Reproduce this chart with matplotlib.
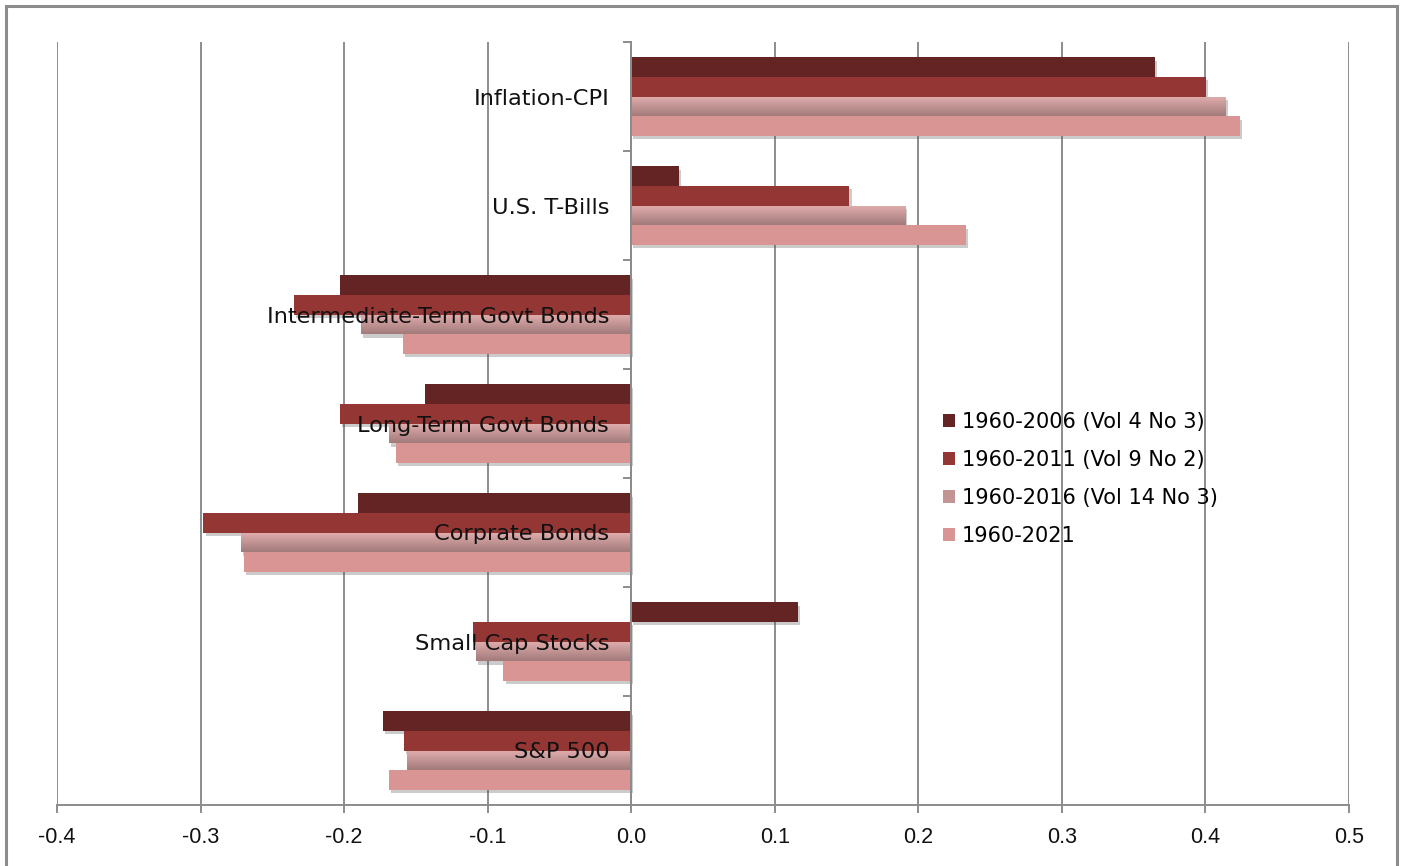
import numpy as np
import matplotlib
matplotlib.use("Agg")
import matplotlib.pyplot as plt
import matplotlib.patheffects as pe
import matplotlib.transforms as mtransforms
from matplotlib.patches import Rectangle

# categories, top to bottom
categories = ["Inflation-CPI", "U.S. T-Bills", "Intermediate-Term Govt Bonds",
              "Long-Term Govt Bonds", "Corprate Bonds", "Small Cap Stocks", "S&P 500"]
series_names = ["1960-2006 (Vol 4 No 3)", "1960-2011 (Vol 9 No 2)",
                "1960-2016 (Vol 14 No 3)", "1960-2021"]

v2006 = [0.365, 0.033, -0.203, -0.1435, -0.190, 0.116, -0.173]
v2011 = [0.4005, 0.152, -0.235, -0.203, -0.298, -0.110, -0.158]
v2016 = [0.414, 0.191, -0.188, -0.169, -0.272, -0.108, -0.156]
v2021 = [0.424, 0.233, -0.159, -0.164, -0.270, -0.089, -0.169]

xticks = [-0.4, -0.3, -0.2, -0.1, 0.0, 0.1, 0.2, 0.3, 0.4, 0.5]

colors = ["#632423", "#943634", "#C39494", "#D99594"]
grad_top = np.array([0xE2, 0xAE, 0xAE]) / 255
grad_bot = np.array([0xA2, 0x7A, 0x7A]) / 255

fig = plt.figure(figsize=(14.01, 8.66), dpi=100)
ax = fig.add_axes([57 / 1401, 61 / 866, 1292 / 1401, 763 / 866])

n = len(categories)
ypos = np.arange(n)[::-1].astype(float)
bh = 0.18
offsets = [1.5 * bh, 0.5 * bh, -0.5 * bh, -1.5 * bh]
shadow = [pe.SimplePatchShadow(offset=(1.5, -2.5), alpha=0.3, shadow_rgbFace="#555555"), pe.Normal()]

containers = []
for vals, off, col, name in zip([v2006, v2011, v2016, v2021], offsets, colors, series_names):
    bc = ax.barh(ypos + off, vals, height=bh, color=col, label=name, zorder=3)
    for b in bc:
        b.set_path_effects(shadow)
    containers.append(bc)

# vertical gradient on the third series
grad = np.linspace(0, 1, 64)[:, None, None]
grad_img = grad_top * (1 - grad) + grad_bot * grad
for b in containers[2]:
    x0, y0 = b.get_x(), b.get_y()
    w, h = b.get_width(), b.get_height()
    im = ax.imshow(grad_img, extent=[min(x0, x0 + w), max(x0, x0 + w), y0, y0 + h],
                   aspect="auto", origin="upper", zorder=3.5, interpolation="bilinear")
    im.set_clip_path(b)

ax.set_xlim(-0.4, 0.5)
ax.set_ylim(-0.5, n - 0.5)
ax.set_xticks(xticks)
ax.set_xticklabels([f"{t:.1f}" for t in xticks], fontsize=15.5,
                   family=["Liberation Sans", "DejaVu Sans"], color="#111111")
ax.grid(axis="x", color="#8c8c8c", linewidth=1.4, zorder=0)
ax.set_axisbelow(True)

for s in ["top", "right"]:
    ax.spines[s].set_visible(False)
ax.spines["left"].set_position(("data", 0))
for s in ["left", "bottom"]:
    ax.spines[s].set_color("#8c8c8c")
    ax.spines[s].set_linewidth(1.4)
    ax.spines[s].set_zorder(4)

ax.tick_params(axis="x", length=6, width=1.4, color="#8c8c8c", pad=10)
ax.set_yticks(np.arange(n + 1) - 0.5)
ax.set_yticklabels([])
ax.tick_params(axis="y", length=6, width=1.4, color="#8c8c8c")

# category names sit left of the zero line, drawn over the bars
label_tr = mtransforms.offset_copy(ax.transData, fig=fig, x=-22, y=-2, units="dots")
for yy, name in zip(ypos, categories):
    ax.text(0, yy, name, transform=label_tr, ha="right", va="center",
            fontsize=16.2, color="#111111", zorder=10)

leg = ax.legend(loc="upper left", bbox_to_anchor=(924 / 1401, 1 - 393 / 866),
                bbox_transform=fig.transFigure, frameon=False, fontsize=15,
                handlelength=0.6, handleheight=0.6, handletextpad=0.3, labelspacing=0.86)
for h in leg.legend_handles:
    h.set_path_effects([])

# chart border
fig.patches.append(Rectangle((6 / 1401, -0.01), 1391 / 1401, 1 - 6 / 866 + 0.01,
                             transform=fig.transFigure, fill=False,
                             edgecolor="#8c8c8c", linewidth=2.2))

fig.savefig("out.png", dpi=100)
